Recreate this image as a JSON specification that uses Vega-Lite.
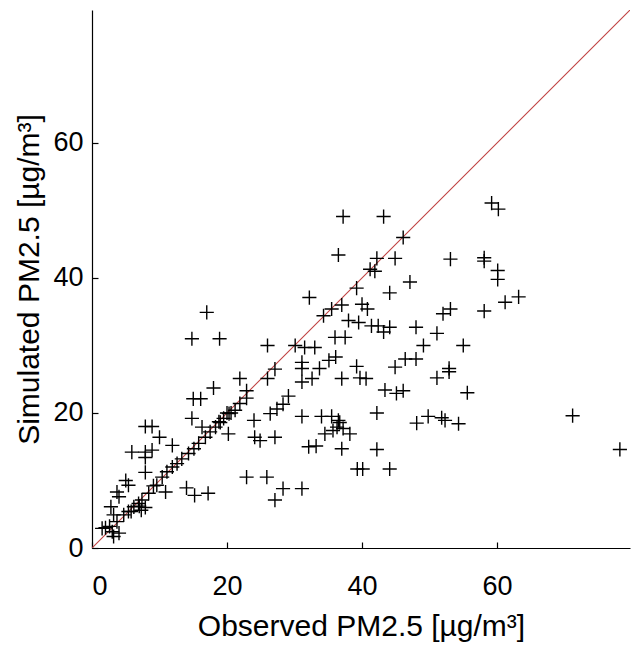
{
  "$schema": "https://vega.github.io/schema/vega-lite/v6.json",
  "width": 538,
  "height": 538,
  "autosize": "none",
  "padding": {"left": 92, "top": 10, "right": 5, "bottom": 100},
  "background": "white",
  "config": {
    "view": {"stroke": null},
    "font": "Liberation Sans",
    "axis": {
      "grid": false,
      "domainColor": "black",
      "domainWidth": 1.2,
      "tickColor": "black",
      "tickWidth": 1.2,
      "tickSize": -6,
      "labelColor": "black",
      "labelFontSize": 27,
      "labelFont": "Liberation Sans",
      "titleFont": "Liberation Sans",
      "titleFontSize": 30,
      "titleFontWeight": "normal",
      "titleColor": "black"
    }
  },
  "datasets": {
    "pts": [
      {"o":59.2,"s":51.1},{"o":60.2,"s":50.2},{"o":37.2,"s":49.1},{"o":43.2,"s":49.1},{"o":46.1,"s":46.0},{"o":36.5,"s":43.4},{"o":42.2,"s":42.9},{"o":44.9,"s":42.9},{"o":53.1,"s":42.8},{"o":58.1,"s":43.0},{"o":58.1,"s":42.5},{"o":60.1,"s":41.1},{"o":60.1,"s":39.8},{"o":41.2,"s":41.3},{"o":41.9,"s":41.0},{"o":47.1,"s":39.4},{"o":39.2,"s":38.5},{"o":44.1,"s":37.8},{"o":32.2,"s":37.1},{"o":63.2,"s":37.2},{"o":61.2,"s":36.4},{"o":35.5,"s":35.4},{"o":34.3,"s":34.4},{"o":53.1,"s":35.4},{"o":52.0,"s":34.7},{"o":58.1,"s":35.1},{"o":40.0,"s":36.1},{"o":40.8,"s":35.4},{"o":48.0,"s":32.7},{"o":51.1,"s":31.8},{"o":38.0,"s":33.7},{"o":39.5,"s":33.4},{"o":41.4,"s":32.9},{"o":42.4,"s":32.9},{"o":43.2,"s":32.0},{"o":44.1,"s":32.7},{"o":37.0,"s":36.0},
      {"o":36.0,"s":31.2},{"o":37.5,"s":31.2},{"o":30.1,"s":30.0},{"o":31.5,"s":29.7},{"o":33.0,"s":29.7},{"o":26.0,"s":30.0},{"o":49.1,"s":30.0},{"o":55.0,"s":30.0},{"o":36.1,"s":28.3},{"o":35.1,"s":27.8},{"o":46.4,"s":28.0},{"o":48.0,"s":28.0},{"o":31.1,"s":27.5},{"o":31.1,"s":26.6},{"o":31.1,"s":24.6},{"o":33.7,"s":26.6},{"o":32.6,"s":25.1},{"o":39.2,"s":26.9},{"o":39.7,"s":25.2},{"o":37.0,"s":25.1},{"o":40.6,"s":25.1},{"o":44.9,"s":26.8},{"o":52.9,"s":26.6},{"o":52.9,"s":26.1},{"o":51.1,"s":25.2},{"o":55.6,"s":23.0},{"o":43.4,"s":23.4},{"o":45.1,"s":22.9},{"o":46.1,"s":23.3},{"o":29.1,"s":22.5},{"o":28.3,"s":21.3},{"o":27.4,"s":20.6},{"o":26.4,"s":19.9},{"o":31.1,"s":19.5},{"o":34.0,"s":19.5},{"o":35.5,"s":19.5},{"o":36.5,"s":18.9},{"o":42.2,"s":20.0},{"o":48.1,"s":18.5},{"o":49.8,"s":19.5},{"o":51.8,"s":19.3},{"o":52.3,"s":18.9},{"o":54.3,"s":18.4},{"o":71.2,"s":19.6},{"o":78.2,"s":14.6},
      {"o":34.5,"s":16.9},{"o":35.7,"s":17.4},{"o":37.2,"s":17.7},{"o":38.2,"s":16.9},{"o":36.7,"s":18.6},{"o":36.3,"s":17.9},{"o":32.1,"s":15.0},{"o":33.2,"s":15.1},{"o":37.0,"s":14.7},{"o":42.2,"s":14.6},{"o":39.3,"s":11.7},{"o":40.1,"s":11.7},{"o":44.1,"s":11.7},{"o":31.1,"s":8.8},{"o":28.3,"s":8.8},{"o":27.1,"s":7.1},{"o":22.9,"s":10.5},{"o":25.9,"s":10.5},{"o":24.1,"s":16.4},{"o":24.9,"s":15.9},{"o":27.1,"s":16.4},{"o":24.0,"s":18.9},
      {"o":21.9,"s":25.1},{"o":18.0,"s":23.7},{"o":15.0,"s":22.1},{"o":16.1,"s":22.1},{"o":22.9,"s":23.3},{"o":17.0,"s":34.9},{"o":14.8,"s":31.0},{"o":18.9,"s":31.0},{"o":14.8,"s":19.2},{"o":16.3,"s":17.9},{"o":20.2,"s":16.9},{"o":7.9,"s":18.0},{"o":8.9,"s":18.0},{"o":10.0,"s":16.4},{"o":11.9,"s":15.2},{"o":5.9,"s":14.2},{"o":7.9,"s":14.2},{"o":8.9,"s":14.5},{"o":7.9,"s":13.4},{"o":7.9,"s":11.2},{"o":5.0,"s":10.0},{"o":5.4,"s":9.3},{"o":3.7,"s":8.3},{"o":4.0,"s":7.6},{"o":10.9,"s":8.3},{"o":14.0,"s":8.9},{"o":15.2,"s":7.8},{"o":17.2,"s":8.1},{"o":2.8,"s":6.1},{"o":7.9,"s":6.0},{"o":7.3,"s":5.6},{"o":1.5,"s":2.9},{"o":3.0,"s":2.4},{"o":4.0,"s":2.2},{"o":3.2,"s":1.7},{"o":3.2,"s":4.9},
      {"o":2.0,"s":3.0},{"o":2.6,"s":3.2},{"o":3.7,"s":3.9},{"o":4.7,"s":4.9},{"o":5.4,"s":5.4},{"o":5.8,"s":5.4},{"o":6.2,"s":6.1},{"o":6.9,"s":6.6},{"o":7.0,"s":6.2},{"o":7.4,"s":7.1},{"o":8.4,"s":8.1},{"o":9.1,"s":9.2},{"o":9.6,"s":9.3},{"o":10.4,"s":10.5},{"o":11.1,"s":11.3},{"o":11.9,"s":12.0},{"o":12.6,"s":12.5},{"o":13.3,"s":13.2},{"o":14.3,"s":14.0},{"o":15.1,"s":14.7},{"o":15.8,"s":15.5},{"o":16.8,"s":16.4},{"o":17.5,"s":17.2},{"o":18.3,"s":17.9},{"o":18.8,"s":18.7},{"o":19.0,"s":18.6},{"o":19.5,"s":19.2},{"o":20.0,"s":20.0},{"o":20.3,"s":19.9},{"o":20.6,"s":20.0},{"o":21.2,"s":20.4},{"o":21.9,"s":21.4},{"o":22.9,"s":22.2},{"o":26.0,"s":25.1},{"o":27.1,"s":26.5}
    ],
    "diag": [{"o":0,"s":0},{"o":79.7,"s":79.7}]
  },
  "layer": [
    {
      "data": {"name": "diag"},
      "mark": {"type": "line", "stroke": "#c04040", "color": "#c04040", "strokeWidth": 1.1, "clip": true},
      "encoding": {
        "x": {"field": "o", "type": "quantitative", "scale": {"domain": [0, 79.7], "nice": false, "zero": false},
              "axis": {"values": [0, 20, 40, 60], "title": "Observed PM2.5 [µg/m³]", "labelPadding": 31, "titlePadding": 12}},
        "y": {"field": "s", "type": "quantitative", "scale": {"domain": [0, 79.7], "nice": false, "zero": false},
              "axis": {"values": [0, 20, 40, 60], "title": "Simulated PM2.5 [µg/m³]", "labelPadding": 15, "titlePadding": 8}}
      }
    },
    {
      "data": {"name": "pts"},
      "mark": {"type": "point", "shape": "M-1,0H1M0,-1V1", "size": 200, "filled": false, "stroke": "black", "strokeWidth": 1.4, "opacity": 1},
      "encoding": {
        "x": {"field": "o", "type": "quantitative"},
        "y": {"field": "s", "type": "quantitative"}
      }
    }
  ]
}
